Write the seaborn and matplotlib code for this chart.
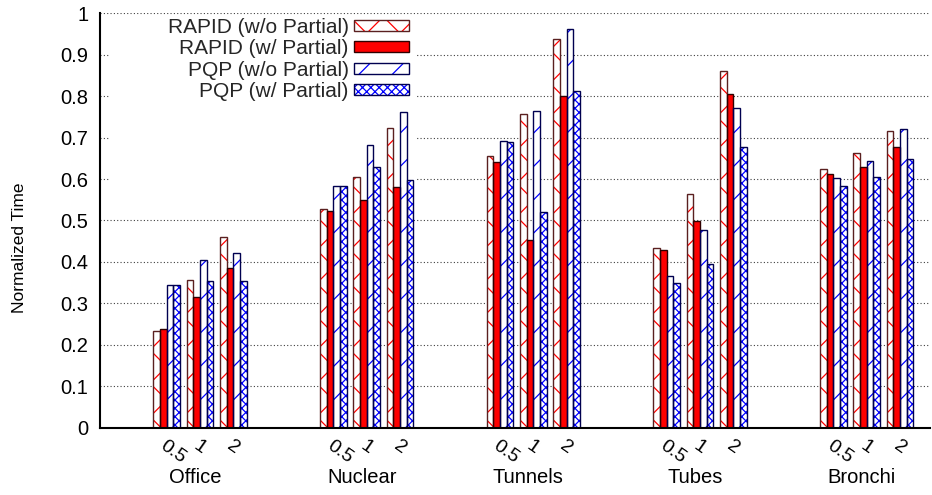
import matplotlib
matplotlib.use("Agg")
import matplotlib.pyplot as plt
from matplotlib.patches import Patch, Rectangle
from matplotlib.ticker import FuncFormatter, MultipleLocator
import numpy as np
import pandas as pd
import seaborn as sns

# ---- data -----------------------------------------------------------------
scenes = ["Office", "Nuclear", "Tunnels", "Tubes", "Bronchi"]
tolerances = ["0.5", "1", "2"]
methods = ["RAPID (w/o Partial)", "RAPID (w/ Partial)",
           "PQP (w/o Partial)", "PQP (w/ Partial)"]

# values ordered scene by scene, tolerance 0.5 / 1 / 2 within each scene
rapid_no_partial = [0.234, 0.356, 0.461, 0.527, 0.604, 0.724, 0.656, 0.756, 0.937,
                    0.434, 0.563, 0.860, 0.625, 0.662, 0.716]
rapid_partial = [0.239, 0.315, 0.385, 0.524, 0.549, 0.581, 0.642, 0.452, 0.801,
                 0.428, 0.499, 0.806, 0.611, 0.628, 0.678]
pqp_no_partial = [0.344, 0.406, 0.422, 0.584, 0.683, 0.761, 0.691, 0.765, 0.961,
                  0.367, 0.476, 0.770, 0.602, 0.643, 0.721]
pqp_partial = [0.344, 0.353, 0.353, 0.584, 0.630, 0.598, 0.690, 0.520, 0.813,
               0.349, 0.394, 0.678, 0.584, 0.606, 0.647]

series = [rapid_no_partial, rapid_partial, pqp_no_partial, pqp_partial]

# ---- styling per method ----------------------------------------------------
fill_colors = ["white", "#ff0000", "white", "white"]
hatch_colors = ["#ff0000", "#ff0000", "#0000ff", "#0000ff"]
hatches = ["x", None, "/", "xxxx"]
outline_colors = ["#5a2020", "#300000", "#000050", "#000050"]

# slot layout: three tolerance slots per scene plus two empty slots between scenes
slots_per_scene = 5
rows = []
for m, vals in zip(methods, series):
    for si, scene in enumerate(scenes):
        for ti, tol in enumerate(tolerances):
            rows.append({"pos": si * slots_per_scene + ti, "scene": scene,
                         "tol": tol, "method": m,
                         "value": vals[si * len(tolerances) + ti]})
df = pd.DataFrame(rows)

sns.set_theme(style="white")
plt.rcParams["font.family"] = ["Liberation Sans", "DejaVu Sans"]
plt.rcParams["hatch.linewidth"] = 0.9

fig = plt.figure(figsize=(9.32, 4.95), dpi=100)
ax = fig.add_axes([0.1073, 0.1354, 0.8906, 0.8383])

# fill + hatch layer
sns.barplot(data=df, x="pos", y="value", hue="method", hue_order=methods,
            palette=dict(zip(methods, fill_colors)), native_scale=True,
            width=0.8, dodge=True, saturation=1, errorbar=None,
            legend=False, linewidth=0, ax=ax)
for cont, hc, h in zip(ax.containers[:4], hatch_colors, hatches):
    for bar in cont:
        bar.set_edgecolor(hc)
        bar.set_linewidth(0)
        if h:
            bar.set_hatch(h)

# outline layer
sns.barplot(data=df, x="pos", y="value", hue="method", hue_order=methods,
            palette=dict(zip(methods, outline_colors)), native_scale=True,
            width=0.8, dodge=True, saturation=1, errorbar=None,
            legend=False, fill=False, linewidth=1.0, ax=ax)

# ---- axes ---------------------------------------------------------------
ax.set_xlim(-2.0, 22.9)
ax.set_ylim(0, 1)
ax.yaxis.set_major_locator(MultipleLocator(0.1))
ax.yaxis.set_major_formatter(FuncFormatter(lambda v, _: f"{v:g}"))
ax.tick_params(axis="y", length=0, pad=8.5, labelsize=14.5, labelcolor="black")
ax.set_axisbelow(True)
ax.yaxis.grid(True, linestyle=(0, (1, 2)), color="#404040", linewidth=0.8)
ax.xaxis.grid(False)

# blank key area: hides the grid behind the legend, bars stay on top
ax.add_patch(Rectangle((0.012, 0.56), 0.37, 0.40, transform=ax.transAxes,
                       facecolor="white", edgecolor="none", zorder=0.8))

tick_pos = [si * slots_per_scene + ti for si in range(len(scenes))
            for ti in range(len(tolerances))]
ax.set_xticks(tick_pos)
ax.set_xticklabels(tolerances * len(scenes))
ax.tick_params(axis="x", length=0, pad=7, labelsize=14, labelcolor="black")
for lbl in ax.get_xticklabels():
    lbl.set_rotation(-35)
    lbl.set_ha("left")
    lbl.set_va("top")
    lbl.set_rotation_mode("anchor")
ax.set_xlabel("")

sec = ax.secondary_xaxis("bottom")
sec.set_xticks([si * slots_per_scene + 0.85 for si in range(len(scenes))])
sec.set_xticklabels(scenes)
sec.tick_params(axis="x", length=0, pad=29, labelsize=14.5, labelcolor="black")
sec.spines["bottom"].set_visible(False)

ax.set_ylabel("Normalized Time", fontsize=12.5, color="black")
ax.yaxis.set_label_coords(-0.088, 0.435)

for side in ("top", "right"):
    ax.spines[side].set_visible(False)
for side in ("left", "bottom"):
    ax.spines[side].set_color("black")
    ax.spines[side].set_linewidth(1.5)

# ---- legend -------------------------------------------------------------
handles = []
for fc, hc, h, oc in zip(fill_colors, hatch_colors, hatches, outline_colors):
    handles.append((Patch(facecolor=fc, edgecolor=hc, hatch=h, linewidth=0),
                    Patch(fill=False, edgecolor=oc, linewidth=1.0)))
leg = ax.legend(handles, methods, loc="upper right",
                bbox_to_anchor=(0.375, 0.993), markerfirst=False,
                handlelength=2.65, handleheight=0.43, handletextpad=0.25,
                labelspacing=0.11, fontsize=15, borderpad=0.1,
                borderaxespad=0, frameon=False)

fig.savefig("out.png", dpi=100)
